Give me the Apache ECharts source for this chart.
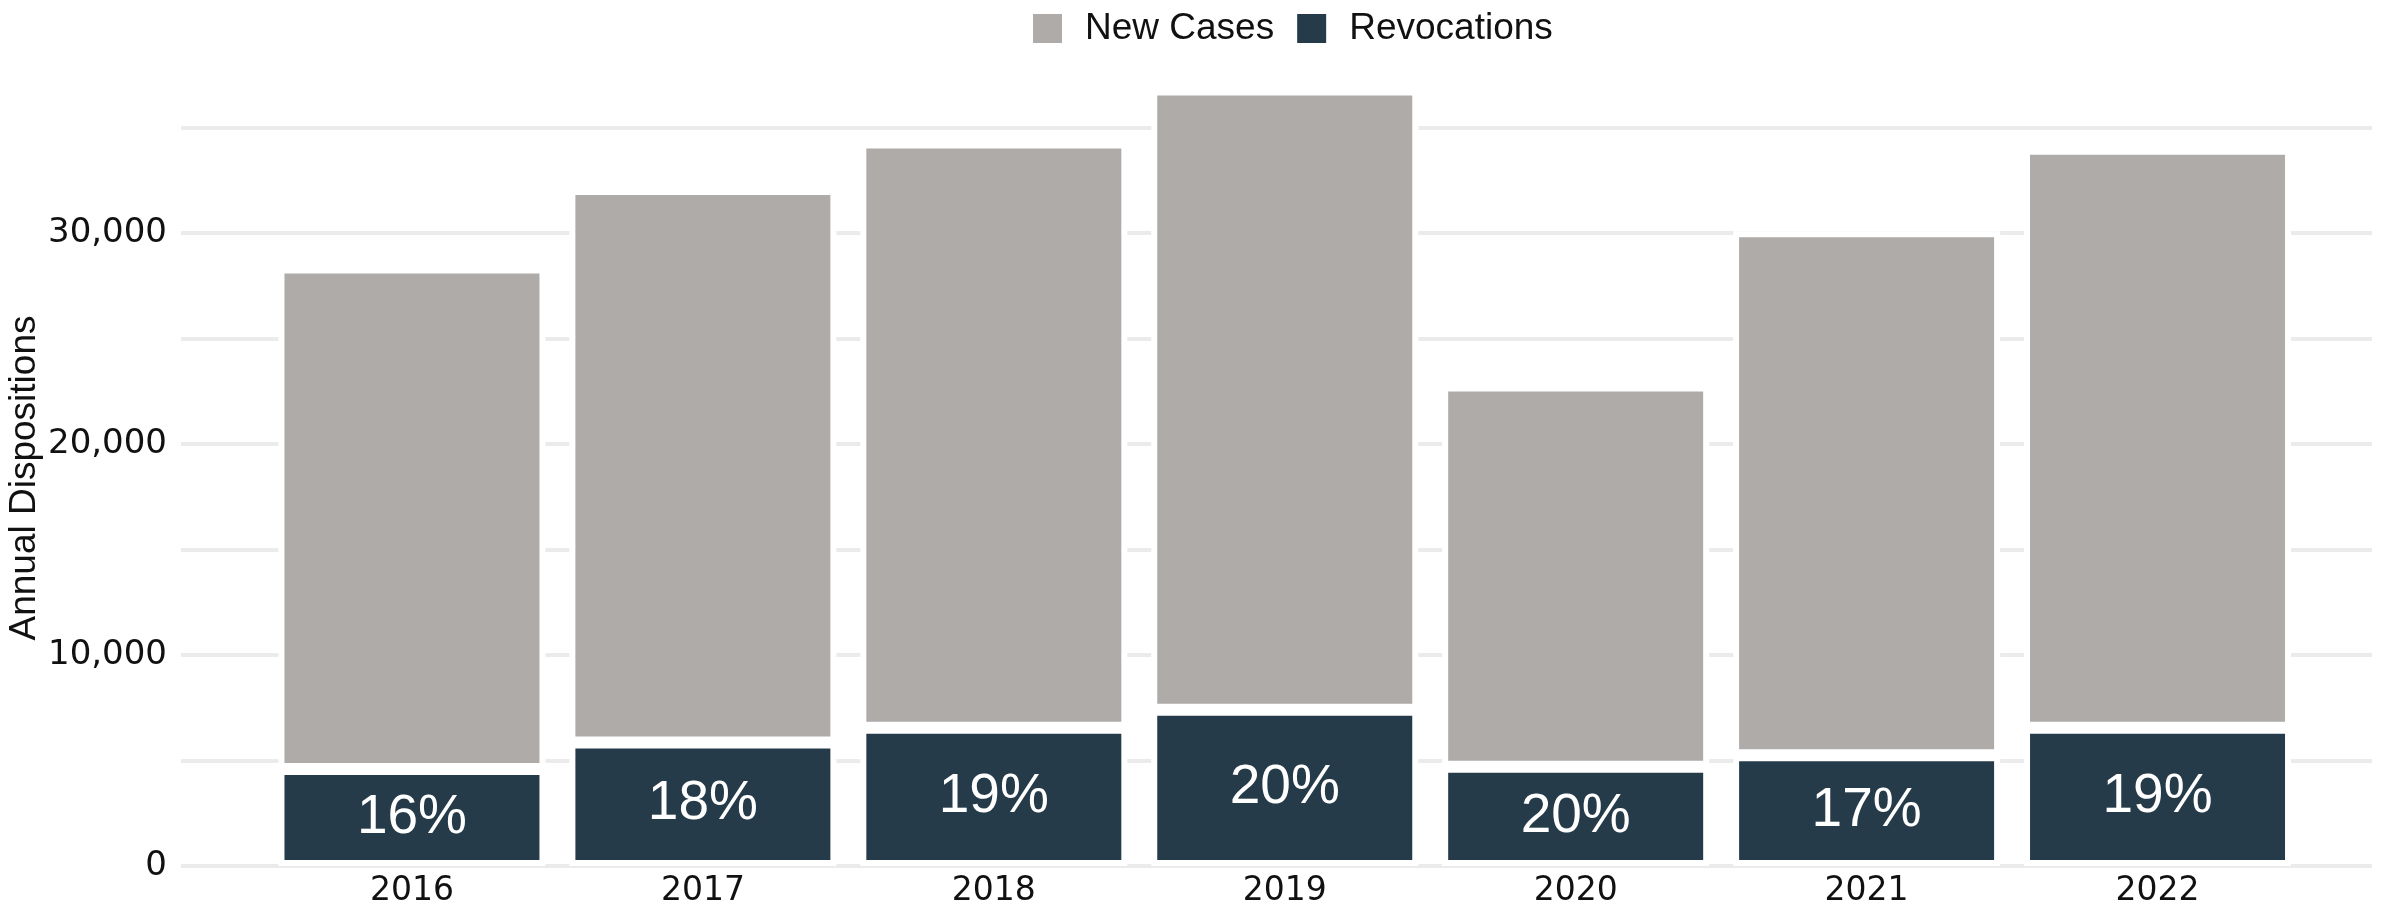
<!DOCTYPE html>
<html>
<head>
<meta charset="utf-8">
<script src="https://cdn.jsdelivr.net/npm/echarts@6/dist/echarts.min.js"></script>
<style>
  html, body { margin: 0; padding: 0; background: #fff; }
  #chart { width: 2403px; height: 908px; }
</style>
</head>
<body>
<div id="chart"></div>
<script>
const years = ['2016', '2017', '2018', '2019', '2020', '2021', '2022'];
const revocations = [4600, 5850, 6550, 7400, 4700, 5250, 6550];
const newCases = [23770, 26240, 27740, 29400, 18070, 24830, 27440];
const shareLabels = ['16%', '18%', '19%', '20%', '20%', '17%', '19%'];
const yTicks = [0, 10000, 20000, 30000];

const GRAY = '#aeaba9';
const DARK = '#263b4a';
const FONT = 'Liberation Sans';
const TICK_FONT = 'DejaVu Sans';

const chart = echarts.init(document.getElementById('chart'));

// bar grid runs 5,000 higher than the gridline grid so the 2019 bar is not clipped,
// top offsets keep both value scales identical
const options = {
  animation: false,
  backgroundColor: '#fff',
  textStyle: { fontFamily: FONT },
  legend: {
    left: 1026,
    top: 5,
    icon: 'rect',
    itemWidth: 31,
    itemHeight: 31,
    itemGap: 21,
    textStyle: { fontFamily: FONT, fontSize: 37, color: '#111', padding: [0, 0, 0, 17] },
    data: ['New Cases', 'Revocations'],
  },
  graphic: [
    {
      type: 'text',
      x: 25,
      y: 478,
      rotation: Math.PI / 2,
      style: {
        text: 'Annual Dispositions',
        fontFamily: FONT,
        fontSize: 37,
        fill: '#111',
        align: 'center',
        verticalAlign: 'middle',
      },
    },
  ],
  grid: [
    { left: 181, right: 31, top: 127.5, bottom: 42, containLabel: false, outerBoundsMode: 'none' },
    { left: 266.5, right: 100, top: 22, bottom: 42, containLabel: false, outerBoundsMode: 'none' },
  ],
  xAxis: [
    { gridIndex: 0, type: 'value', min: 0, max: 1, show: false },
    {
      gridIndex: 1,
      type: 'category',
      data: years,
      axisLine: { show: false },
      axisTick: { show: false },
      axisLabel: { fontFamily: TICK_FONT, fontSize: 33, color: '#111', margin: 9 },
    },
  ],
  yAxis: [
    {
      gridIndex: 0,
      type: 'value',
      min: 0,
      max: 35000,
      interval: 5000,
      axisLine: { show: false },
      axisTick: { show: false },
      axisLabel: {
        fontFamily: TICK_FONT,
        fontSize: 34,
        color: '#111',
        margin: 14,
        formatter: v => yTicks.indexOf(v) >= 0 ? v.toLocaleString('en-US') : '',
      },
      splitLine: { show: true, lineStyle: { color: '#ebebeb', width: 4 } },
    },
    { gridIndex: 1, type: 'value', min: 0, max: 40000, show: false, splitLine: { show: false } },
  ],
  series: [
    {
      name: 'Revocations',
      type: 'bar',
      stack: 'total',
      xAxisIndex: 1,
      yAxisIndex: 1,
      barWidth: 267,
      data: revocations,
      itemStyle: { color: DARK, borderColor: '#fff', borderWidth: 6 },
      label: {
        show: true,
        position: 'inside',
        fontFamily: FONT,
        fontSize: 55,
        color: '#fff',
        formatter: p => shareLabels[p.dataIndex],
      },
    },
    {
      name: 'New Cases',
      type: 'bar',
      stack: 'total',
      xAxisIndex: 1,
      yAxisIndex: 1,
      barWidth: 267,
      data: newCases,
      itemStyle: { color: GRAY, borderColor: '#fff', borderWidth: 6 },
    },
  ],
};

chart.setOption(options);
</script>
</body>
</html>
